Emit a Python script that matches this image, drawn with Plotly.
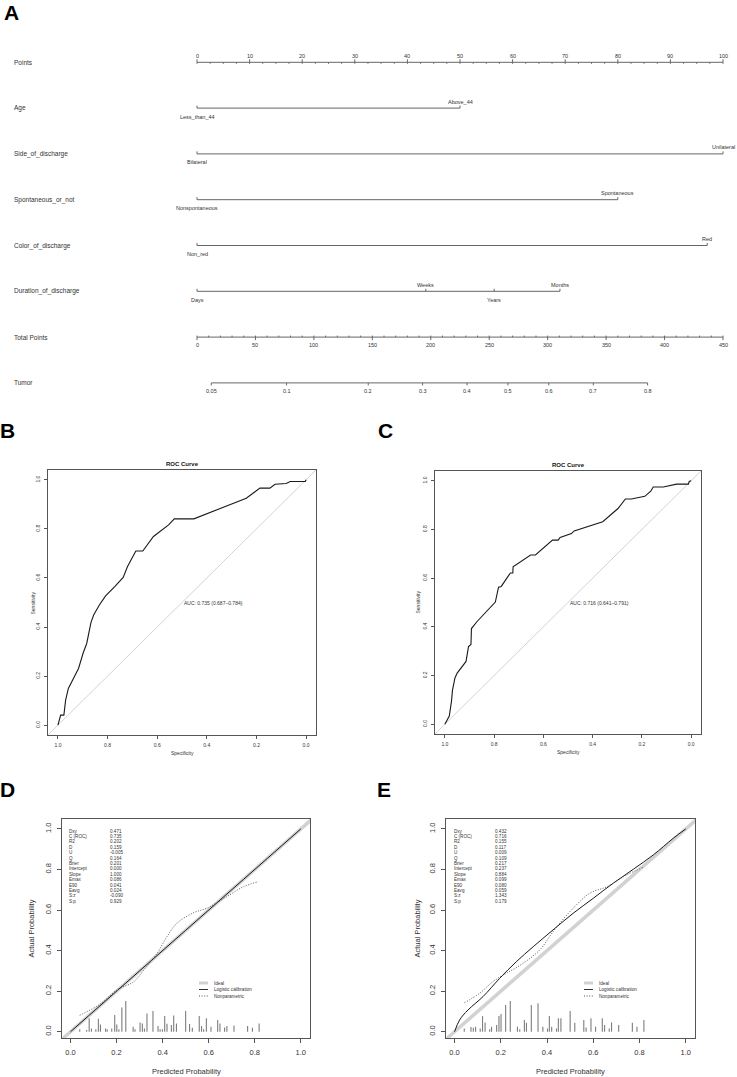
import math
import plotly.graph_objects as go

W, H = 737, 1077
FONT = "Liberation Sans, Arial, Helvetica, sans-serif"
INK = "#333333"
AXC = "#555555"

# ---------------- data: nomogram (panel A) ----------------
row_names = ["Points", "Age", "Side_of_discharge", "Spontaneous_or_not",
             "Color_of_discharge", "Duration_of_discharge", "Total Points", "Tumor"]
points_ticks = [0, 10, 20, 30, 40, 50, 60, 70, 80, 90, 100]
points_minor_step = 2.5
total_ticks = [0, 50, 100, 150, 200, 250, 300, 350, 400, 450]
total_minor_step = 10
tumor_ticks = [0.05, 0.1, 0.2, 0.3, 0.4, 0.5, 0.6, 0.7, 0.8]
tumor_labels = ["0.05", "0.1", "0.2", "0.3", "0.4", "0.5", "0.6", "0.7", "0.8"]
TOTAL_AT_P50 = 266.0      # total points where risk = 0.5
TOTAL_PER_LOGIT = 86.2    # total points per unit of linear predictor

age_levels = ["Less_than_44", "Above_44"]
age_points = [0, 50]
side_levels = ["Bilateral", "Unilateral"]
side_points = [0, 100]
spont_levels = ["Nonspontaneous", "Spontaneous"]
spont_points = [0, 80]
color_levels = ["Non_red", "Red"]
color_points = [0, 97]
duration_levels = ["Days", "Weeks", "Years", "Months"]
duration_points = [0, 43.5, 56.5, 69]

# ---------------- data: ROC curves (panels B, C) ----------------
roc_b_spec = [1.0, 0.989, 0.976, 0.969, 0.958, 0.917, 0.898, 0.884, 0.867, 0.856,
              0.833, 0.808, 0.771, 0.737, 0.72, 0.686, 0.658, 0.615, 0.554, 0.531,
              0.452, 0.241, 0.186, 0.146, 0.125, 0.08, 0.064, 0.003, 0.0]
roc_b_sens = [0.0, 0.041, 0.041, 0.102, 0.150, 0.231, 0.295, 0.333, 0.418, 0.449,
              0.490, 0.527, 0.565, 0.602, 0.646, 0.710, 0.710, 0.769, 0.816, 0.841,
              0.841, 0.925, 0.966, 0.966, 0.982, 0.985, 0.993, 0.993, 1.0]
auc_b_text = "AUC: 0.735 (0.687\u20130.784)"

roc_c_spec = [1.0, 0.982, 0.973, 0.969, 0.959, 0.950, 0.914, 0.904, 0.894, 0.892,
              0.870, 0.795, 0.782, 0.771, 0.734, 0.724, 0.723, 0.652, 0.632, 0.563,
              0.540, 0.532, 0.486, 0.475, 0.359, 0.297, 0.267, 0.243, 0.188, 0.164,
              0.154, 0.113, 0.059, 0.011, 0.008, 0.0]
roc_c_sens = [0.0, 0.034, 0.095, 0.140, 0.190, 0.210, 0.258, 0.319, 0.328, 0.393,
              0.421, 0.502, 0.563, 0.566, 0.621, 0.621, 0.647, 0.695, 0.695, 0.756,
              0.756, 0.767, 0.783, 0.794, 0.832, 0.886, 0.925, 0.925, 0.936, 0.957,
              0.974, 0.974, 0.986, 0.986, 0.997, 1.0]
auc_c_text = "AUC: 0.716 (0.641\u20130.791)"
roc_ticks = [1.0, 0.8, 0.6, 0.4, 0.2, 0.0]
ROC_RANGE = [-0.04, 1.04]

# ---------------- data: calibration (panels D, E) ----------------
stat_names = ["Dxy", "C (ROC)", "R2", "D", "U", "Q", "Brier", "Intercept",
              "Slope", "Emax", "E90", "Eavg", "S:z", "S:p"]
stat_d = ["0.471", "0.735", "0.202", "0.159", "-0.005", "0.164", "0.201", "0.000",
          "1.000", "0.086", "0.041", "0.024", "-0.090", "0.929"]
stat_e = ["0.432", "0.716", "0.155", "0.117", "0.009", "0.109", "0.217", "0.237",
          "0.884", "0.099", "0.080", "0.059", "1.343", "0.179"]

logit_d_x = [0.0, 0.25, 0.5, 0.75, 1.0]
logit_d_y = [0.0, 0.25, 0.5, 0.75, 1.0]
np_d_x = [0.04, 0.13, 0.202, 0.275, 0.318, 0.376, 0.419, 0.462, 0.535, 0.592, 0.679, 0.751, 0.816]
np_d_y = [0.081, 0.137, 0.206, 0.247, 0.304, 0.387, 0.469, 0.535, 0.587, 0.609, 0.666, 0.715, 0.74]

logit_e_x = [0.0, 0.022, 0.058, 0.123, 0.195, 0.267, 0.34, 0.426, 0.513, 0.6, 0.686, 0.773, 0.86, 0.946, 1.0]
logit_e_y = [0.0, 0.058, 0.107, 0.173, 0.263, 0.345, 0.419, 0.502, 0.584, 0.658, 0.732, 0.801, 0.872, 0.954, 1.0]
np_e_x = [0.043, 0.108, 0.166, 0.224, 0.296, 0.368, 0.426, 0.455, 0.513, 0.585, 0.658, 0.744, 0.816]
np_e_y = [0.143, 0.189, 0.247, 0.288, 0.337, 0.403, 0.493, 0.535, 0.609, 0.683, 0.715, 0.773, 0.811]

spike_d_x = [0.04, 0.07, 0.081, 0.091, 0.11, 0.121, 0.13, 0.152, 0.159, 0.179,
             0.192, 0.201, 0.21, 0.223, 0.24, 0.272, 0.28, 0.302, 0.312, 0.321,
             0.332, 0.358, 0.38, 0.389, 0.399, 0.409, 0.419, 0.438, 0.448, 0.46,
             0.5, 0.517, 0.529, 0.559, 0.569, 0.578, 0.59, 0.61, 0.639, 0.649,
             0.669, 0.679, 0.71, 0.769, 0.79, 0.819]
spike_d_h = [0.012, 0.008, 0.067, 0.016, 0.012, 0.064, 0.036, 0.016, 0.012, 0.016,
             0.082, 0.036, 0.012, 0.12, 0.151, 0.025, 0.012, 0.046, 0.041, 0.016,
             0.09, 0.102, 0.028, 0.012, 0.012, 0.077, 0.039, 0.033, 0.08, 0.041,
             0.102, 0.038, 0.02, 0.077, 0.028, 0.012, 0.066, 0.025, 0.058, 0.041,
             0.021, 0.028, 0.031, 0.028, 0.02, 0.041]
spike_e_x = [0.042, 0.071, 0.081, 0.091, 0.111, 0.121, 0.132, 0.152, 0.16, 0.182,
             0.192, 0.201, 0.221, 0.241, 0.272, 0.282, 0.302, 0.311, 0.332, 0.361,
             0.382, 0.402, 0.41, 0.42, 0.441, 0.449, 0.46, 0.5, 0.52, 0.559,
             0.569, 0.59, 0.61, 0.639, 0.649, 0.669, 0.679, 0.71, 0.769, 0.789, 0.819]
spike_e_h = [0.016, 0.023, 0.02, 0.025, 0.016, 0.077, 0.046, 0.012, 0.025, 0.033,
             0.077, 0.087, 0.132, 0.151, 0.025, 0.012, 0.058, 0.044, 0.132, 0.14,
             0.025, 0.016, 0.077, 0.025, 0.016, 0.066, 0.066, 0.102, 0.044, 0.058,
             0.021, 0.066, 0.025, 0.066, 0.033, 0.016, 0.046, 0.033, 0.044, 0.025, 0.058]
cal_ticks = [0.0, 0.2, 0.4, 0.6, 0.8, 1.0]
legend_labels = ["Ideal", "Logistic calibration", "Nonparametric"]
CAL_XRANGE = [-0.037, 1.04]
CAL_YRANGE = [-0.031, 1.049]
NP_DASH = "1px,1.6px"


# ---------------- helpers ----------------
def fx(p):
    return p / W


def fy(p):
    return 1 - p / H


def fmt1(v):
    return "%.1f" % v


fig = go.Figure()
ann = []
shapes = []

# ---------------- Panel A: nomogram ----------------
PX0, PX1 = 197.0, 723.0          # pixel of 0 and 100 points
PPP = (PX1 - PX0) / 100.0        # pixels per point
ROW0, ROWSP = 62.3, 45.8         # pixel of first row line, row spacing
A_BOTTOM = 420.0
nx0 = -PX0 / PPP
nx1 = nx0 + W / PPP
ny_top = -ROW0 / ROWSP
ny_bot = ny_top + A_BOTTOM / ROWSP
LINE_NOMO = dict(color="#666666", width=1)


def tlen(px):
    return px / ROWSP


def add_segments(xs_pairs, ys_pairs, axis="x", yaxis="y", line=LINE_NOMO):
    xs, ys = [], []
    for (xa, xb), (ya, yb) in zip(xs_pairs, ys_pairs):
        xs += [xa, xb, None]
        ys += [ya, yb, None]
    fig.add_trace(go.Scatter(x=xs, y=ys, mode="lines", line=line, xaxis=axis, yaxis=yaxis,
                             hoverinfo="skip", showlegend=False))


def nomo_text(x, row, text, shift):
    ann.append(dict(x=x, y=row, xref="x", yref="y", text=text, showarrow=False,
                    yshift=shift, xanchor="center", yanchor="middle",
                    font=dict(family=FONT, size=5.5, color=INK)))


# row labels
for i, name in enumerate(row_names):
    ann.append(dict(x=fx(12), y=i, xref="paper", yref="y", text=name, showarrow=False,
                    xanchor="left", yanchor="middle",
                    font=dict(family=FONT, size=6.5, color=INK)))

# Points axis (row 0)
r = 0
pmin, pmax = points_ticks[0], points_ticks[-1]
segs_x = [(pmin, pmax)]
segs_y = [(r, r)]
for t in points_ticks:
    segs_x.append((t, t))
    segs_y.append((r, r - tlen(3)))
    nomo_text(t, r, str(t), 6.5)
n_minor = int(round((pmax - pmin) / points_minor_step))
for k in range(n_minor + 1):
    m = pmin + k * points_minor_step
    segs_x.append((m, m))
    segs_y.append((r, r + tlen(1.5)))
add_segments(segs_x, segs_y)

# variable rows
var_rows = [(age_levels, age_points), (side_levels, side_points),
            (spont_levels, spont_points), (color_levels, color_points),
            (duration_levels, duration_points)]
for j, (levels, pts) in enumerate(var_rows):
    r = j + 1
    segs_x = [(min(pts), max(pts))]
    segs_y = [(r, r)]
    for k, (lev, p) in enumerate(zip(levels, pts)):
        segs_x.append((p, p))
        segs_y.append((r, r - tlen(2.5)))
        nomo_text(p, r, lev, 6.5 if k % 2 == 1 else -8.5)
    add_segments(segs_x, segs_y)

# Total points axis (row 6)
r = 6
TOTAL_MAX = total_ticks[-1]
to_pts = 100.0 / TOTAL_MAX
segs_x = [(total_ticks[0] * to_pts, TOTAL_MAX * to_pts)]
segs_y = [(r, r)]
for t in total_ticks:
    segs_x.append((t * to_pts, t * to_pts))
    segs_y.append((r, r + tlen(3)))
    nomo_text(t * to_pts, r, str(t), -7.5)
n_minor = int(round(TOTAL_MAX / total_minor_step))
for k in range(n_minor + 1):
    m = k * total_minor_step * to_pts
    segs_x.append((m, m))
    segs_y.append((r, r - tlen(1.5)))
add_segments(segs_x, segs_y)

# Tumor risk axis (row 7)
r = 7
tum_x = [(TOTAL_AT_P50 + TOTAL_PER_LOGIT * math.log(p / (1 - p))) * to_pts for p in tumor_ticks]
segs_x = [(tum_x[0], tum_x[-1])]
segs_y = [(r, r)]
for xv, lab in zip(tum_x, tumor_labels):
    segs_x.append((xv, xv))
    segs_y.append((r, r + tlen(2.5)))
    nomo_text(xv, r, lab, -8.5)
add_segments(segs_x, segs_y)

# ---------------- Panels B, C: ROC ----------------
def roc_panel(idx, box, spec, sens, auc_text, title_y, ylab_x, xlab_y):
    left, right, top, bottom = box
    xa, ya = "x%d" % idx, "y%d" % idx
    common = dict(showgrid=False, zeroline=False, showline=True, mirror=True,
                  linecolor=AXC, linewidth=0.8, ticks="outside", ticklen=3,
                  tickwidth=0.7, tickcolor=AXC, tickvals=roc_ticks,
                  ticktext=[fmt1(v) for v in roc_ticks],
                  tickfont=dict(family=FONT, size=5, color=INK), ticklabelstandoff=2)
    fig.layout["xaxis%d" % idx] = dict(common, domain=[fx(left), fx(right)],
                                       range=ROC_RANGE[::-1], anchor=ya)
    fig.layout["yaxis%d" % idx] = dict(common, domain=[fy(bottom), fy(top)],
                                       range=ROC_RANGE, anchor=xa, tickangle=-90)
    fig.add_trace(go.Scatter(x=ROC_RANGE[::-1], y=ROC_RANGE, mode="lines",
                             line=dict(color="#c8c8c8", width=0.8),
                             xaxis=xa, yaxis=ya, hoverinfo="skip", showlegend=False))
    fig.add_trace(go.Scatter(x=spec, y=sens, mode="lines",
                             line=dict(color="#1a1a1a", width=1.1),
                             xaxis=xa, yaxis=ya, showlegend=False))
    ann.append(dict(x=0.5, y=0.5, xref=xa, yref=ya, text=auc_text, showarrow=False,
                    xanchor="left", yanchor="middle",
                    font=dict(family=FONT, size=5, color=INK)))
    ann.append(dict(x=fx((left + right) / 2), y=fy(title_y), xref="paper", yref="paper",
                    text="<b>ROC Curve</b>", showarrow=False, xanchor="center",
                    yanchor="middle", font=dict(family=FONT, size=6, color="#111111")))
    ann.append(dict(x=fx(ylab_x), y=0.5, xref="paper", yref=ya + " domain",
                    text="Sensitivity", showarrow=False, textangle=-90,
                    xanchor="center", yanchor="middle",
                    font=dict(family=FONT, size=5, color=INK)))
    ann.append(dict(x=0.5, y=fy(xlab_y), xref=xa + " domain", yref="paper",
                    text="Specificity", showarrow=False, xanchor="center",
                    yanchor="middle", font=dict(family=FONT, size=5, color=INK)))


roc_panel(2, (48, 316, 470, 735), roc_b_spec, roc_b_sens, auc_b_text, 464, 32, 753)
roc_panel(3, (435, 701, 471, 734), roc_c_spec, roc_c_sens, auc_c_text, 465, 417, 752)

# ---------------- Panels D, E: calibration ----------------
def cal_panel(idx, box, lx, ly, npx, npy, spx, sph, stats, stat_x, leg_x, ylab_x):
    left, right, top, bottom = box
    xa, ya = "x%d" % idx, "y%d" % idx
    common = dict(showgrid=False, zeroline=False, showline=True, mirror=True,
                  linecolor=AXC, linewidth=0.8, ticks="outside", ticklen=4,
                  tickwidth=0.7, tickcolor=AXC, tickvals=cal_ticks,
                  ticktext=[fmt1(v) for v in cal_ticks],
                  tickfont=dict(family=FONT, size=7.5, color=INK), ticklabelstandoff=3)
    fig.layout["xaxis%d" % idx] = dict(common, domain=[fx(left), fx(right)],
                                       range=CAL_XRANGE, anchor=ya)
    fig.layout["yaxis%d" % idx] = dict(common, domain=[fy(bottom), fy(top)],
                                       range=CAL_YRANGE, anchor=xa, tickangle=-90)
    # ideal line
    fig.add_trace(go.Scatter(x=[-0.1, 1.1], y=[-0.1, 1.1], mode="lines",
                             line=dict(color="#d2d2d2", width=3.5),
                             xaxis=xa, yaxis=ya, hoverinfo="skip", showlegend=False))
    # spike histogram
    sx, sy = [], []
    for xv, hv in zip(spx, sph):
        sx += [xv, xv, None]
        sy += [0, hv, None]
    fig.add_trace(go.Scatter(x=sx, y=sy, mode="lines", line=dict(color="#7d7d7d", width=1.1),
                             xaxis=xa, yaxis=ya, hoverinfo="skip", showlegend=False))
    # logistic calibration
    fig.add_trace(go.Scatter(x=lx, y=ly, mode="lines", line=dict(color="#1a1a1a", width=1),
                             line_shape="spline",
                             xaxis=xa, yaxis=ya, showlegend=False))
    # nonparametric
    fig.add_trace(go.Scatter(x=npx, y=npy, mode="lines", line_shape="spline",
                             line=dict(color="#444444", width=0.9, dash=NP_DASH),
                             xaxis=xa, yaxis=ya, showlegend=False))
    # stats block
    y0, dy = 831.0, 5.4
    for k, (nm, val) in enumerate(zip(stat_names, stats)):
        yy = fy(y0 + k * dy)
        ann.append(dict(x=fx(stat_x), y=yy, xref="paper", yref="paper", text=nm,
                        showarrow=False, xanchor="left", yanchor="middle",
                        font=dict(family=FONT, size=4.6, color=INK)))
        ann.append(dict(x=fx(stat_x + 41), y=yy, xref="paper", yref="paper", text=val,
                        showarrow=False, xanchor="left", yanchor="middle",
                        font=dict(family=FONT, size=4.6, color=INK)))
    # legend
    leg_styles = [dict(color="#d2d2d2", width=3), dict(color="#1a1a1a", width=0.9),
                  dict(color="#444444", width=0.9, dash=NP_DASH)]
    for k, (lab, st) in enumerate(zip(legend_labels, leg_styles)):
        yy = fy(983 + k * 6.5)
        shapes.append(dict(type="line", xref="paper", yref="paper",
                           x0=fx(leg_x - 13), x1=fx(leg_x - 4), y0=yy, y1=yy, line=st))
        ann.append(dict(x=fx(leg_x), y=yy, xref="paper", yref="paper", text=lab,
                        showarrow=False, xanchor="left", yanchor="middle",
                        font=dict(family=FONT, size=4.6, color=INK)))
    # axis titles
    ann.append(dict(x=0.5, y=fy(1071), xref=xa + " domain", yref="paper",
                    text="Predicted Probability", showarrow=False, xanchor="center",
                    yanchor="middle", font=dict(family=FONT, size=7.5, color=INK)))
    ann.append(dict(x=fx(ylab_x), y=0.5, xref="paper", yref=ya + " domain",
                    text="Actual Probability", showarrow=False, textangle=-90,
                    xanchor="center", yanchor="middle",
                    font=dict(family=FONT, size=7.5, color=INK)))


cal_panel(4, (62, 310, 819, 1038), logit_d_x, logit_d_y, np_d_x, np_d_y,
          spike_d_x, spike_d_h, stat_d, 67, 212, 31)
cal_panel(5, (446, 695, 819, 1038), logit_e_x, logit_e_y, np_e_x, np_e_y,
          spike_e_x, spike_e_h, stat_e, 452, 597, 417)

# ---------------- panel letters ----------------
for letter, (px, py) in zip(["A", "B", "C", "D", "E"],
                            [(11, 12), (8, 430), (386, 430), (8, 789), (384, 789)]):
    ann.append(dict(x=fx(px), y=fy(py), xref="paper", yref="paper", text="<b>%s</b>" % letter,
                    showarrow=False, xanchor="center", yanchor="middle",
                    font=dict(family=FONT, size=21, color="#000000")))

fig.update_layout(
    width=W, height=H, margin=dict(l=0, r=0, t=0, b=0),
    paper_bgcolor="white", plot_bgcolor="white", showlegend=False,
    xaxis=dict(domain=[0, 1], range=[nx0, nx1], visible=False, anchor="y"),
    yaxis=dict(domain=[fy(A_BOTTOM), 1], range=[ny_bot, ny_top], visible=False, anchor="x"),
    annotations=ann, shapes=shapes,
    font=dict(family=FONT, color=INK),
)

fig.write_html("out.html", config={"displayModeBar": False},
               post_script="document.body.style.margin='0';document.body.style.padding='0';"
                           "document.body.style.overflow='hidden';")
